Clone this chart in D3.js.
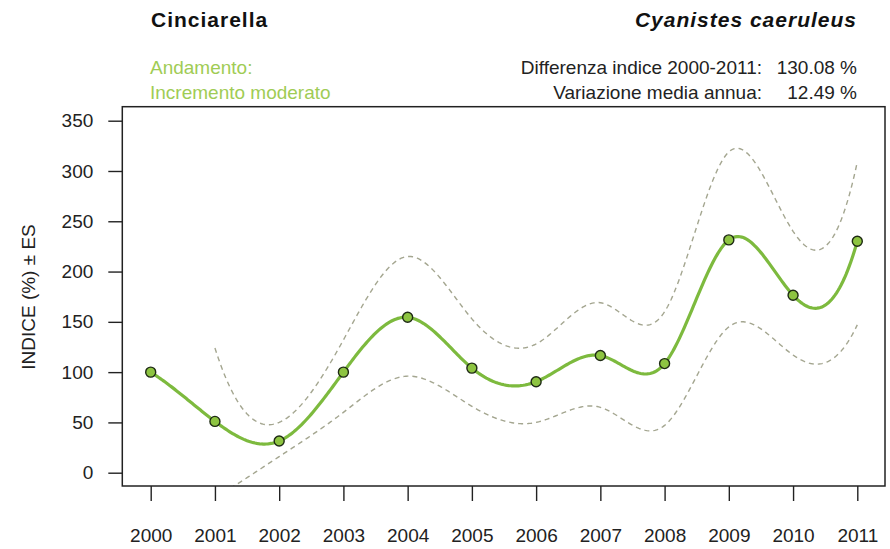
<!DOCTYPE html>
<html>
<head>
<meta charset="utf-8">
<script src="https://cdn.jsdelivr.net/npm/d3@7"></script>
<style>
  html, body { margin: 0; padding: 0; background: #fff; }
  svg { display: block; font-family: "Liberation Sans", Arial, sans-serif; }
</style>
</head>
<body>
<svg id="chart" width="890" height="549"></svg>
<script>
// Annual population index (%), base year 2000 = 100
const years = [2000, 2001, 2002, 2003, 2004, 2005, 2006, 2007, 2008, 2009, 2010, 2011];
const indexValues = [100, 51, 31.5, 100, 154.5, 104, 90.5, 116.5, 108.5, 231.5, 176.5, 230.08];

// Standard-error envelope (from 2001 onwards)
const bandYears = [2001, 2002, 2003, 2004, 2005, 2006, 2007, 2008, 2009, 2010, 2011];
const upperValues = [124, 50, 132, 215, 153, 128, 169, 160, 319, 240, 309];
const lowerValues = [-25, 16, 60, 96, 66, 50, 65, 47, 145, 117, 147];

const yTicks = [0, 50, 100, 150, 200, 250, 300, 350];

const speciesCommon = "Cinciarella";
const speciesLatin = "Cyanistes caeruleus";
const trendLines = ["Andamento:", "Incremento moderato"];
const statLabels = ["Differenza indice 2000-2011:", "Variazione media annua:"];
const statValues = ["130.08 %", "12.49 %"];

// Forsythe-Malcolm-Moler cubic interpolating spline, sampled densely
function fmmSpline(xs, ys, perSegment) {
  const n = xs.length, nm1 = n - 1;
  const b = new Array(n).fill(0), c = new Array(n).fill(0), d = new Array(n).fill(0);
  d[0] = xs[1] - xs[0];
  c[1] = (ys[1] - ys[0]) / d[0];
  for (let i = 1; i < nm1; i++) {
    d[i] = xs[i + 1] - xs[i];
    b[i] = 2 * (d[i - 1] + d[i]);
    c[i + 1] = (ys[i + 1] - ys[i]) / d[i];
    c[i] = c[i + 1] - c[i];
  }
  b[0] = -d[0];
  b[nm1] = -d[n - 2];
  c[0] = c[nm1] = 0;
  if (n > 3) {
    c[0] = c[2] / (xs[3] - xs[1]) - c[1] / (xs[2] - xs[0]);
    c[nm1] = c[n - 2] / (xs[nm1] - xs[n - 3]) - c[n - 3] / (xs[n - 2] - xs[n - 4]);
    c[0] = c[0] * d[0] * d[0] / (xs[3] - xs[0]);
    c[nm1] = -c[nm1] * d[n - 2] * d[n - 2] / (xs[nm1] - xs[n - 4]);
  }
  for (let i = 1; i <= nm1; i++) {
    const t = d[i - 1] / b[i - 1];
    b[i] -= t * d[i - 1];
    c[i] -= t * c[i - 1];
  }
  c[nm1] /= b[nm1];
  for (let i = n - 2; i >= 0; i--) c[i] = (c[i] - d[i] * c[i + 1]) / b[i];
  b[nm1] = (ys[nm1] - ys[n - 2]) / d[n - 2] + d[n - 2] * (c[n - 2] + 2 * c[nm1]);
  for (let i = 0; i < nm1; i++) {
    b[i] = (ys[i + 1] - ys[i]) / d[i] - d[i] * (c[i + 1] + 2 * c[i]);
    d[i] = (c[i + 1] - c[i]) / d[i];
    c[i] = 3 * c[i];
  }
  c[nm1] = 3 * c[nm1];
  d[nm1] = d[n - 2];

  const out = [];
  for (let i = 0; i < nm1; i++) {
    for (let k = 0; k < perSegment; k++) {
      const dx = (xs[i + 1] - xs[i]) * k / perSegment;
      out.push([xs[i] + dx, ys[i] + dx * (b[i] + dx * (c[i] + dx * d[i]))]);
    }
  }
  out.push([xs[nm1], ys[nm1]]);
  return out;
}

const svg = d3.select("#chart");

const box = { left: 122.3, right: 885, top: 106.7, bottom: 486 };

const x = d3.scaleLinear().domain([2000, 2011]).range([150.7, 857.3]);
const y = d3.scaleLinear().domain([0, 350]).range([472.7, 120.7]);

const textColor = "#222";
const green = "#9fcc55";

// clip region = plot box
svg.append("defs").append("clipPath").attr("id", "plotClip")
  .append("rect")
  .attr("x", box.left).attr("y", box.top)
  .attr("width", box.right - box.left).attr("height", box.bottom - box.top);

// Titles
svg.append("text")
  .attr("x", 151).attr("y", 27)
  .attr("font-size", 21).attr("font-weight", "bold")
  .attr("letter-spacing", 1)
  .attr("fill", "#111")
  .text(speciesCommon);

svg.append("text")
  .attr("x", 857).attr("y", 27)
  .attr("text-anchor", "end")
  .attr("font-size", 21).attr("font-weight", "bold").attr("font-style", "italic")
  .attr("letter-spacing", 1)
  .attr("fill", "#111")
  .text(speciesLatin);

// Trend description
svg.selectAll("text.trend").data(trendLines).join("text")
  .attr("class", "trend")
  .attr("x", 150).attr("y", (d, i) => 74 + i * 25)
  .attr("font-size", 19)
  .attr("fill", green)
  .text(d => d);

// Summary statistics
svg.selectAll("text.statLabel").data(statLabels).join("text")
  .attr("class", "statLabel")
  .attr("x", 762).attr("y", (d, i) => 74 + i * 25)
  .attr("text-anchor", "end")
  .attr("font-size", 19)
  .attr("fill", textColor)
  .text(d => d);

svg.selectAll("text.statValue").data(statValues).join("text")
  .attr("class", "statValue")
  .attr("x", 857).attr("y", (d, i) => 74 + i * 25)
  .attr("text-anchor", "end")
  .attr("font-size", 19)
  .attr("fill", textColor)
  .text(d => d);

// Axes
const yAxis = d3.axisLeft(y).tickValues(yTicks).tickSize(14).tickPadding(15);
const gy = svg.append("g").attr("transform", `translate(${box.left},0)`).call(yAxis);
gy.select(".domain").remove();
gy.selectAll("line").attr("stroke", textColor).attr("stroke-width", 1.4);
gy.selectAll("text").attr("font-size", 19).attr("fill", textColor)
  .attr("font-family", "Liberation Sans, Arial, sans-serif");

const xAxis = d3.axisBottom(x).tickValues(years).tickFormat(d3.format("d")).tickSize(15).tickPadding(27.5);
const gx = svg.append("g").attr("transform", `translate(0,${box.bottom})`).call(xAxis);
gx.select(".domain").remove();
gx.selectAll("line").attr("stroke", textColor).attr("stroke-width", 1.4);
gx.selectAll("text").attr("font-size", 19).attr("fill", textColor)
  .attr("font-family", "Liberation Sans, Arial, sans-serif");

// Y axis title
svg.append("text")
  .attr("transform", "translate(35,297) rotate(-90)")
  .attr("text-anchor", "middle")
  .attr("font-size", 19)
  .attr("fill", textColor)
  .text("INDICE (%) ± ES");

// Curves
const line = d3.line()
  .x(d => x(d[0]))
  .y(d => y(d[1]));

const plot = svg.append("g").attr("clip-path", "url(#plotClip)");

[upperValues, lowerValues].forEach(vals => {
  plot.append("path")
    .datum(fmmSpline(bandYears, vals, 40))
    .attr("d", line)
    .attr("fill", "none")
    .attr("stroke", "#a4a690")
    .attr("stroke-width", 1.4)
    .attr("stroke-dasharray", "5,4");
});

plot.append("path")
  .datum(fmmSpline(years, indexValues, 40))
  .attr("d", line)
  .attr("fill", "none")
  .attr("stroke", "#7dba3e")
  .attr("stroke-width", 3.2);

const mainData = years.map((yr, i) => [yr, indexValues[i]]);

plot.selectAll("circle.pt").data(mainData).join("circle")
  .attr("class", "pt")
  .attr("cx", d => x(d[0]))
  .attr("cy", d => y(d[1]))
  .attr("r", 5)
  .attr("fill", "#8dc441")
  .attr("stroke", "#1e2a14")
  .attr("stroke-width", 1.4);

// Plot frame
svg.append("rect")
  .attr("x", box.left).attr("y", box.top)
  .attr("width", box.right - box.left).attr("height", box.bottom - box.top)
  .attr("fill", "none")
  .attr("stroke", textColor)
  .attr("stroke-width", 1.5);
</script>
</body>
</html>
